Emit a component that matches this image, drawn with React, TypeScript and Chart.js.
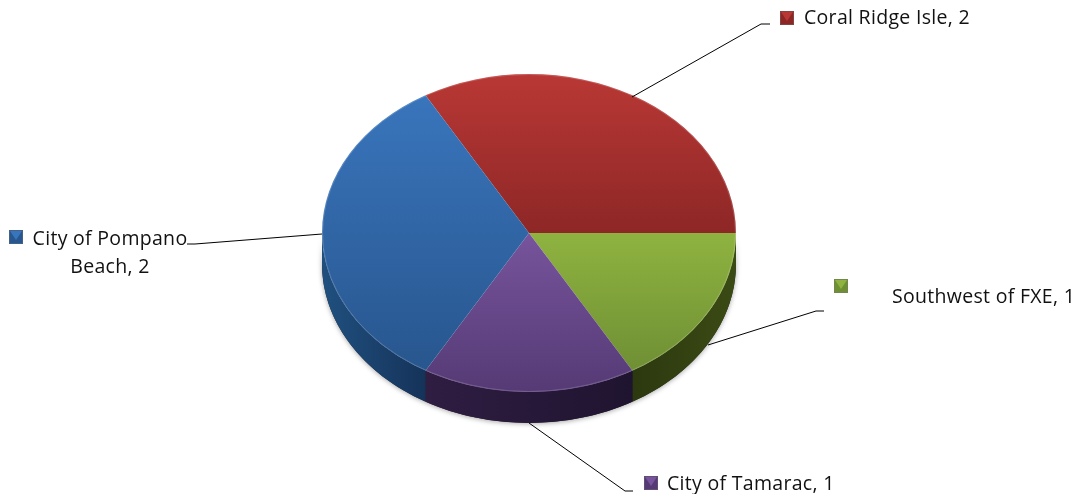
import React, { useEffect, useRef } from "react";
import { Chart, registerables } from "chart.js";

Chart.register(...registerables);

const categories = ["Coral Ridge Isle", "Southwest of FXE", "City of Tamarac", "City of Pompano Beach"];
const seriesValues = [2, 1, 1, 2];
const labelLines = [["Coral Ridge Isle, 2"], ["Southwest of FXE, 1"], ["City of Tamarac, 1"], ["City of Pompano", "Beach, 2"]];
const faceTop = ["#b93835", "#8fb340", "#77549c", "#3975bc"];
const faceBottom = ["#8d2726", "#6f8f34", "#553a75", "#28568e"];
const wallStart = ["", "#2c380f", "#2f1d42", "#20507f"];
const wallEnd = ["", "#3b4b14", "#1f1430", "#15335a"];
const markerPositions = [[780, 11], [834, 279], [644, 476], [9, 230]];
const textAnchors = [[804, 24, "left"], [892, 303, "left"], [667, 490, "left"], [110, 245, "center"]];
const leaderLines = [
  [[632, 97], [761, 24], [770, 24]],
  [[708, 345], [816, 311], [824, 311]],
  [[529, 423], [625, 491], [633, 491]],
  [[322, 234], [195, 244], [187, 244]],
];

const SQUASH = 159 / 207;
const DEPTH = 31;
const FONT = '19.5px "Open Sans", Lato, sans-serif';
const LINE_GAP = 28;

const sliceAngles = () => {
  const total = seriesValues.reduce((a, b) => a + b, 0);
  let a = -Math.PI * 2 / 3;
  return seriesValues.map((v) => {
    const s = a;
    a += (v / total) * Math.PI * 2;
    return [s, a];
  });
};

const pie3d = {
  id: "pie3d",
  beforeDatasetsDraw(chart: any) {
    const ctx = chart.ctx;
    const arcs = chart.getDatasetMeta(0).data;
    const { x, y, outerRadius: r } = arcs[0];
    const ry = r * SQUASH;
    ctx.save();
    ctx.shadowColor = "rgba(0,0,0,0.35)";
    ctx.shadowBlur = 5;
    ctx.shadowOffsetY = 1;
    ctx.fillStyle = "#222";
    ctx.beginPath();
    ctx.ellipse(x, y + DEPTH, r, ry, 0, 0, Math.PI);
    ctx.ellipse(x, y, r, ry, 0, Math.PI, 0, true);
    ctx.closePath();
    ctx.fill();
    ctx.restore();
    arcs.forEach((arc: any, i: number) => {
      const a0 = Math.max(arc.startAngle, 0);
      const a1 = Math.min(arc.endAngle, Math.PI);
      if (a1 <= a0) return;
      const x0 = x + r * Math.cos(a1);
      const x1 = x + r * Math.cos(a0);
      const g = ctx.createLinearGradient(x0, 0, x1, 0);
      g.addColorStop(0, wallStart[i]);
      g.addColorStop(1, wallEnd[i]);
      ctx.fillStyle = g;
      ctx.beginPath();
      ctx.ellipse(x, y + DEPTH, r, ry, 0, a1, a0, true);
      ctx.ellipse(x, y, r, ry, 0, a0, a1);
      ctx.closePath();
      ctx.fill();
    });
    ctx.save();
    ctx.translate(x, y);
    ctx.scale(1, SQUASH);
    ctx.translate(-x, -y);
  },
  afterDatasetsDraw(chart: any) {
    const ctx = chart.ctx;
    ctx.restore();
    const arcs = chart.getDatasetMeta(0).data;
    const { x, y, outerRadius: r } = arcs[0];
    ctx.save();
    ctx.strokeStyle = "rgba(255,255,255,0.18)";
    ctx.lineWidth = 1;
    ctx.beginPath();
    ctx.ellipse(x, y, r - 0.5, r * SQUASH - 0.5, 0, 0, Math.PI * 2);
    ctx.stroke();
    ctx.restore();
  },
};

const labelsPlugin = {
  id: "callouts",
  afterDraw(chart: any) {
    const ctx = chart.ctx;
    ctx.save();
    ctx.strokeStyle = "#000";
    ctx.lineWidth = 1;
    leaderLines.forEach((pts) => {
      ctx.beginPath();
      pts.forEach(([px, py], k) => (k ? ctx.lineTo(px, py) : ctx.moveTo(px, py)));
      ctx.stroke();
    });
    categories.forEach((_, i) => {
      const [mx, my] = markerPositions[i];
      const s = 14;
      ctx.fillStyle = faceBottom[i];
      ctx.fillRect(mx, my, s, s);
      ctx.fillStyle = faceTop[i];
      ctx.beginPath();
      ctx.moveTo(mx + 1, my + 1);
      ctx.lineTo(mx + s - 1, my + 1);
      ctx.lineTo(mx + s / 2, my + s / 2 + 3);
      ctx.closePath();
      ctx.fill();
      ctx.strokeStyle = "rgba(120,120,120,0.35)";
      ctx.strokeRect(mx + 0.5, my + 0.5, s - 1, s - 1);
      const [tx, ty, align] = textAnchors[i] as [number, number, CanvasTextAlign];
      ctx.font = FONT;
      (ctx as any).letterSpacing = "0.3px";
      ctx.fillStyle = "#111";
      ctx.textAlign = align;
      ctx.textBaseline = "alphabetic";
      labelLines[i].forEach((line, k) => ctx.fillText(line, tx, ty + k * LINE_GAP));
    });
    ctx.restore();
  },
};

export default function App() {
  const ref = useRef<HTMLCanvasElement>(null);
  useEffect(() => {
    const angles = sliceAngles();
    const chart = new Chart(ref.current!, {
      type: "pie",
      data: {
        labels: categories,
        datasets: [
          {
            data: seriesValues,
            borderWidth: 0,
            backgroundColor: (c: any) => {
              const area = c.chart.chartArea;
              const i = c.dataIndex;
              if (!area || i === undefined) return faceTop[i ?? 0];
              const cy = (area.top + area.bottom) / 2;
              const r = (area.bottom - area.top) / 2;
              const [s, e] = angles[i];
              const ys = [Math.sin(s), Math.sin(e)];
              if (s < Math.PI / 2 && e > Math.PI / 2) ys.push(1);
              if (s < (3 * Math.PI) / 2 && e > (3 * Math.PI) / 2) ys.push(-1);
              if (s < -Math.PI / 2 && e > -Math.PI / 2) ys.push(-1);
              const lo = Math.min(0, ...ys);
              const hi = Math.max(0, ...ys);
              const g = c.chart.ctx.createLinearGradient(0, cy + lo * r, 0, cy + hi * r);
              g.addColorStop(0, faceTop[i]);
              g.addColorStop(1, faceBottom[i]);
              return g;
            },
          },
        ],
      },
      options: {
        responsive: false,
        animation: false,
        rotation: -30,
        layout: { padding: { left: 322, right: 343, top: 26, bottom: 54 } },
        plugins: { legend: { display: false }, tooltip: { enabled: false } },
      },
      plugins: [pie3d, labelsPlugin],
    } as any);
    return () => chart.destroy();
  }, []);
  return (
    <div style={{ position: "absolute", left: 0, top: 0, width: 1079, height: 494, background: "#fff" }}>
      <canvas ref={ref} width={1079} height={494} style={{ display: "block" }} />
    </div>
  );
}
